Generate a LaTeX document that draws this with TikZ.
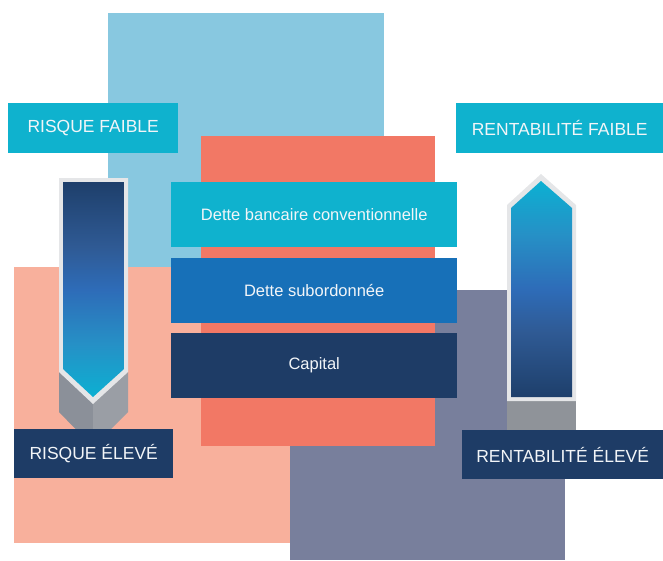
\documentclass[tikz,border=0pt]{standalone}
\usepackage{fontspec}
\setmainfont{Liberation Sans}
\definecolor{lblue}{HTML}{88C8E0}
\definecolor{salmon}{HTML}{F8B09C}
\definecolor{coral}{HTML}{F27865}
\definecolor{slate}{HTML}{787F9C}
\definecolor{cyanb}{HTML}{0FB2CE}
\definecolor{blueb}{HTML}{1770B8}
\definecolor{navy}{HTML}{1E3C66}
\definecolor{rim}{HTML}{E5E6E8}
\definecolor{greyd}{HTML}{8B9099}
\definecolor{greyl}{HTML}{9A9EA5}
\definecolor{greym}{HTML}{8F9399}
\definecolor{txt}{HTML}{F2F5F8}
\definecolor{gA}{HTML}{1E3F6B}
\definecolor{gB}{HTML}{2F5A94}
\definecolor{gC}{HTML}{2E6CB8}
\definecolor{gD}{HTML}{2690C6}
\definecolor{gE}{HTML}{0CB0D2}
\pgfdeclareverticalshading{downgrad}{100bp}{color(0bp)=(gE); color(25bp)=(gE); color(37.5bp)=(gD); color(50bp)=(gC); color(60bp)=(gB); color(75bp)=(gA); color(100bp)=(gA)}
\pgfdeclareverticalshading{upgrad}{100bp}{color(0bp)=(gA); color(25bp)=(gA); color(40bp)=(gB); color(50bp)=(gC); color(62.5bp)=(gD); color(75bp)=(gE); color(100bp)=(gE)}
\tikzset{
  labelbox/.style={fill=#1, text=txt, inner sep=0pt, font=\fontsize{17.5}{20}\selectfont},
  barbox/.style={fill=#1, text=txt, inner sep=0pt, minimum width=286pt, minimum height=65pt, font=\fontsize{16.5}{19}\selectfont},
}
\begin{document}
\begin{tikzpicture}[x=1pt,y=-1pt]
\useasboundingbox (0,0) rectangle (663,560);
% background blocks
\fill[lblue] (108,13) rectangle (384,267);
\fill[salmon] (14,267) rectangle (290,543);
\fill[slate] (290,290) rectangle (565,560);
\fill[coral] (201,136) rectangle (435,446);
% central bars
\node[barbox=cyanb, anchor=north west] (bank) at (171,182) {Dette bancaire conventionnelle};
\node[barbox=blueb, anchor=north west] (sub) at (171,258) {Dette subordonnée};
\node[barbox=navy, anchor=north west] (cap) at (171,333) {Capital};
% left arrow
\fill[greyd] (59,372) -- (93,403) -- (93,447) -- (59,412) -- cycle;
\fill[greyl] (93,403) -- (128,372) -- (128,412) -- (93,447) -- cycle;
\fill[rim] (59,178) -- (128,178) -- (128,372) -- (93,404) -- (59,372) -- cycle;
\shade[shading=downgrad]
  (63,182) -- (124,182) -- (124,369) -- (93,397) -- (63,369) -- cycle;
% right arrow
\fill[greym] (507,400) rectangle (576,440);
\fill[rim] (507,205) -- (541,174) -- (576,205) -- (576,401) -- (507,401) -- cycle;
\shade[shading=upgrad]
  (511,208) -- (541,181) -- (572,208) -- (572,397) -- (511,397) -- cycle;
% labels
\node[labelbox=cyanb, anchor=north west, minimum width=170pt, minimum height=50pt] (rf) at (8,103) {RISQUE FAIBLE};
\node[labelbox=navy, anchor=north west, minimum width=159pt, minimum height=49pt] (re) at (14,429) {RISQUE ÉLEVÉ};
\node[labelbox=cyanb, anchor=north west, minimum width=207pt, minimum height=50pt] (tf) at (456,103) {RENTABILITÉ FAIBLE};
\node[labelbox=navy, anchor=north west, minimum width=201pt, minimum height=49pt] (te) at (462,430) {RENTABILITÉ ÉLEVÉ};
\end{tikzpicture}
\end{document}
